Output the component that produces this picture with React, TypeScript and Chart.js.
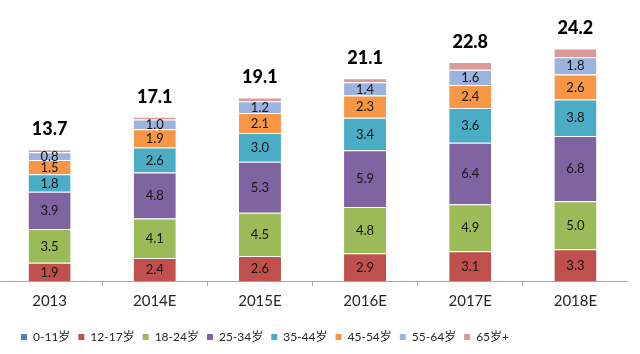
import React, { useEffect, useRef } from 'react';
import { Chart, registerables } from 'chart.js';

Chart.register(...registerables);

const categories = ['2013', '2014E', '2015E', '2016E', '2017E', '2018E'];
const seriesLabels = ['0-11岁', '12-17岁', '18-24岁', '25-34岁', '35-44岁', '45-54岁', '55-64岁', '65岁+'];
const age0_11 = [0, 0, 0, 0, 0, 0];
const age12_17 = [1.9, 2.4, 2.6, 2.9, 3.1, 3.3];
const age18_24 = [3.5, 4.1, 4.5, 4.8, 4.9, 5.0];
const age25_34 = [3.9, 4.8, 5.3, 5.9, 6.4, 6.8];
const age35_44 = [1.8, 2.6, 3.0, 3.4, 3.6, 3.8];
const age45_54 = [1.5, 1.9, 2.1, 2.3, 2.4, 2.6];
const age55_64 = [0.8, 1.0, 1.2, 1.4, 1.6, 1.8];
const age65plus = [0.3, 0.3, 0.4, 0.4, 0.8, 0.9];
const totals = [13.7, 17.1, 19.1, 21.1, 22.8, 24.2];

const seriesValues = [age0_11, age12_17, age18_24, age25_34, age35_44, age45_54, age55_64, age65plus];
const seriesColors = ['#4F81BD', '#C0504D', '#9BBB59', '#8064A2', '#4BACC6', '#F79646', '#9CB3DE', '#DA9A98'];
const labeledSeries = [false, true, true, true, true, true, true, false];

const FONT = 'Lato, "Noto Sans CJK SC", sans-serif';

const labelPlugin = {
  id: 'segLabels',
  afterDatasetsDraw(chart: any) {
    const ctx = chart.ctx;
    ctx.save();
    ctx.textAlign = 'center';
    ctx.textBaseline = 'middle';
    ctx.font = `13px ${FONT}`;
    ctx.fillStyle = '#141414';
    chart.data.datasets.forEach((ds: any, di: number) => {
      if (!labeledSeries[di]) return;
      const meta = chart.getDatasetMeta(di);
      meta.data.forEach((el: any, i: number) => {
        const v = ds.data[i];
        if (!v) return;
        ctx.fillText(v.toFixed(1), el.x, (el.y + el.base) / 2 + 0.5);
      });
    });
    const lastMeta = chart.getDatasetMeta(chart.data.datasets.length - 1);
    ctx.font = `900 18px ${FONT}`;
    ctx.fillStyle = '#000';
    lastMeta.data.forEach((el: any, i: number) => {
      ctx.fillText(totals[i].toFixed(1), el.x, el.y - 20);
    });
    ctx.restore();
  },
};

const legendShift = {
  id: 'legendShift',
  beforeDraw(chart: any) {
    const lg = chart.legend;
    if (lg) {
      const w = lg.width;
      lg.left = 16;
      lg.right = 16 + w + 40;
    }
  },
};

export default function App() {
  const ref = useRef<HTMLCanvasElement | null>(null);
  useEffect(() => {
    if (!ref.current) return;
    const chart = new Chart(ref.current, {
      type: 'bar',
      data: {
        labels: categories,
        datasets: seriesLabels.map((label, i) => ({
          label,
          data: seriesValues[i],
          backgroundColor: seriesColors[i],
          borderColor: '#ffffff',
          borderWidth: { top: 1, left: 0, right: 0, bottom: 0 },
          borderSkipped: false,
          barPercentage: 0.4,
          categoryPercentage: 1,
        })),
      },
      options: {
        animation: false,
        responsive: true,
        maintainAspectRatio: false,
        layout: { padding: { top: 12, bottom: 1, left: 0, right: 0 } },
        scales: {
          x: {
            stacked: true,
            grid: { offset: true, drawOnChartArea: false, drawTicks: true, tickLength: 5, color: '#a6a6a6' },
            border: { color: '#a6a6a6' },
            ticks: { color: '#262626', padding: 6, font: { size: 15, family: FONT } },
            afterFit(scale: any) {
              scale.height += 7;
            },
          },
          y: {
            stacked: true,
            display: false,
            min: 0,
            max: 28,
          },
        },
        plugins: {
          tooltip: { enabled: false },
          legend: {
            position: 'bottom',
            align: 'start',
            labels: {
              boxWidth: 6,
              boxHeight: 6,
              padding: 8,
              color: '#262626',
              font: { size: 12, family: FONT },
              generateLabels(c: any) {
                const items = Chart.defaults.plugins.legend.labels.generateLabels(c);
                return items.map((it: any) => ({ ...it, lineWidth: 0, strokeStyle: it.fillStyle }));
              },
            },
          },
        },
      },
      plugins: [labelPlugin, legendShift],
    });
    return () => chart.destroy();
  }, []);
  return (
    <div style={{ position: 'absolute', left: -3, top: 0, width: 631, height: 354 }}>
      <canvas ref={ref} />
    </div>
  );
}
